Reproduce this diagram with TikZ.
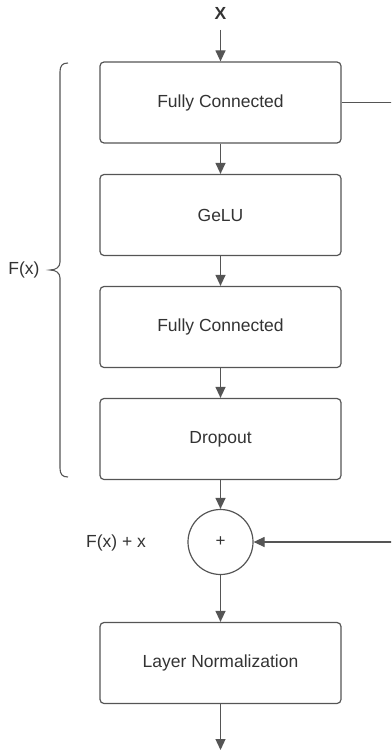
\documentclass[tikz,border=0pt]{standalone}
\usepackage{fontspec}
\setmainfont{Liberation Sans}
\usetikzlibrary{arrows.meta}
\definecolor{lc}{HTML}{555555}
\definecolor{tc}{HTML}{333333}
\begin{document}
\begin{tikzpicture}[x=1pt,y=-1pt,
  box/.style={draw=lc,line width=1.2pt,rounded corners=4pt,minimum width=241pt,minimum height=81pt,inner sep=0pt,text=tc,font=\fontsize{17.5}{19}\selectfont},
  arr/.style={draw=lc,line width=1.2pt,-{Triangle[length=11pt,width=10pt]}},
  lbl/.style={text=tc,font=\fontsize{17.5}{19}\selectfont,inner sep=0pt}]
\clip (0,0) rectangle (391,752);
\node[lbl,font=\bfseries\fontsize{17.5}{19}\selectfont] (x) at (220.5,13) {X};
\node[box] (fc1) at (220.5,102.5) {Fully Connected};
\node[box] (gelu) at (220.5,215) {GeLU};
\node[box] (fc2) at (220.5,327) {Fully Connected};
\node[box] (drop) at (220.5,439) {Dropout};
\node[draw=lc,line width=1.2pt,circle,minimum size=65pt,inner sep=0pt,text=tc,font=\fontsize{17}{18}\selectfont] (plus) at (220.5,542) {+};
\node[box] (ln) at (220.5,663) {Layer Normalization};
\coordinate (out) at (220.5,750);
\coordinate (skip) at (397,102.5);
\node[lbl] (fx) at (24,270) {F(x)};
\node[lbl] (fxx) at (116,543) {F(x) + x};
\draw[arr] (220.5,30) -- (fc1.north);
\draw[arr] (fc1) -- (gelu);
\draw[arr] (gelu) -- (fc2);
\draw[arr] (fc2) -- (drop);
\draw[arr] (drop) -- (plus);
\draw[arr] (plus) -- (ln);
\draw[arr] (ln) -- (out);
\draw[arr] (fc1.east) -- (skip) |- (plus.east);
\draw[lc,line width=1.1pt] (68,63) .. controls (62,63) and (60,66) .. (60,72)
  -- (60,262) .. controls (60,267) and (56,270) .. (50,270)
  .. controls (56,270) and (60,273) .. (60,278)
  -- (60,468) .. controls (60,474) and (62,477) .. (68,477);
\end{tikzpicture}
\end{document}
